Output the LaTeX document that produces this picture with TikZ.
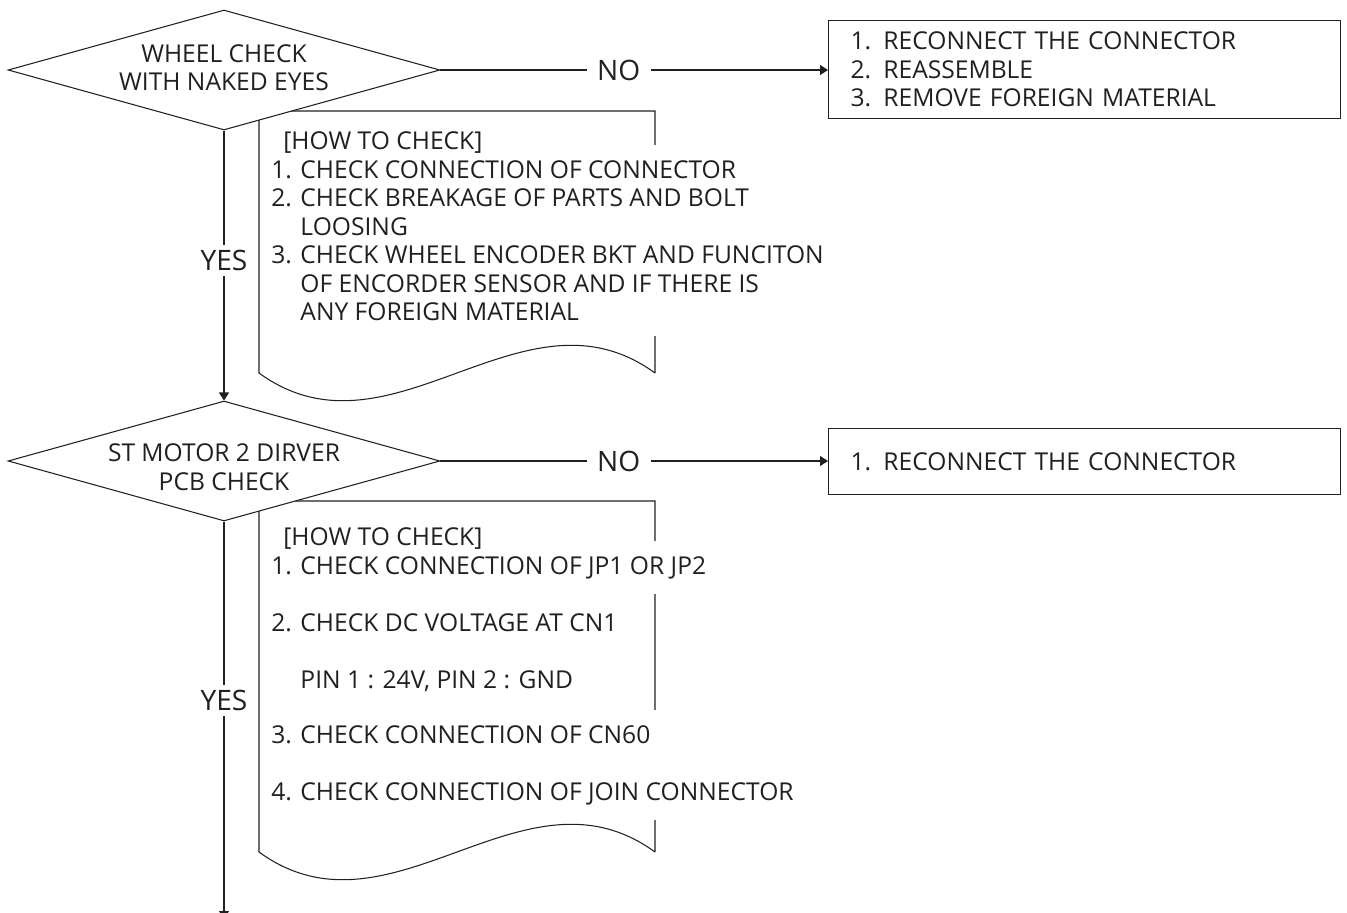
\documentclass[tikz,border=0pt]{standalone}
\usepackage{fontspec}
\setmainfont{Open Sans}
\usetikzlibrary{shapes.geometric,arrows.meta}
\definecolor{ink}{HTML}{231F20}

\tikzset{
  every node/.style={font=\fontsize{14}{16.2}\selectfont, text=ink},
  flow/.style={draw=ink, line width=0.6pt},
  tip/.style={-{Triangle[length=1.6mm,width=2mm]}},
  check/.style={diamond, flow, fill=white, aspect=3.6, minimum width=8.64cm,
    minimum height=2.4cm, inner sep=0pt, align=center},
  fixbox/.style={flow, anchor=north west, text width=9.36cm, inner xsep=0.44cm,
    align=left},
  howto/.style={align=left, fill=white, inner xsep=0pt, inner ysep=0.3cm},
  answer/.style={font=\fontsize{16}{18}\selectfont, fill=white,
    inner xsep=6pt, inner ysep=3pt},
}
% move a line up or down without changing its box
\newcommand{\nudge}[2]{\raisebox{#1}[\height][\depth]{#2}}

\begin{document}
\begin{tikzpicture}[x=0.02cm, y=-0.02cm]
    \useasboundingbox (0,0) rectangle (1347,913);
    \def\dl{259}   % left edge of the notes
    \def\dr{655}   % right edge of the notes
    \def\amp{96}   % wave of the note bottom

    % Note sheets (drawn first, text and diamonds sit on top)
    \foreach \top/\bot in {111/373, 501/852} {
      \draw[flow] (\dr,\bot) -- (\dr,\top) -- (\dl,\top) -- (\dl,\bot)
        .. controls (\dl+132,\bot+\amp) and (\dr-132,\bot-\amp) .. (\dr,\bot);
    }

    % Notes text, first sheet
    \node[howto, anchor=north west] (note1) at (271,145) {1. CHECK CONNECTION OF CONNECTOR\\
      2. CHECK BREAKAGE OF PARTS AND BOLT\\
      \phantom{2. }LOOSING\\
      3. CHECK WHEEL ENCODER BKT AND FUNCITON\\
      \phantom{3. }OF ENCORDER SENSOR AND IF THERE IS\\
      \phantom{3. }ANY FOREIGN MATERIAL};
    \node[anchor=base west, inner sep=0pt] (head1) at (283,149) {[HOW TO CHECK]};

    % Notes text, second sheet
    \node[howto, anchor=base west] (note2a) at (271,574) {1. CHECK CONNECTION OF JP1 OR JP2};
    \node[howto, anchor=north west] (note2b) at (271,598) {2. CHECK DC VOLTAGE AT CN1\\[16.2pt]
      \phantom{2. }PIN 1 : 24V, PIN 2 : GND};
    \node[howto, anchor=north west] (note2c) at (271,710) {3. CHECK CONNECTION OF CN60\\[16.2pt]
      4. CHECK CONNECTION OF JOIN CONNECTOR};
    \node[anchor=base west, inner sep=0pt] (head2) at (283,545) {[HOW TO CHECK]};

    % Decisions
    \node[check] (wheel) at (224,70) {\nudge{1.2pt}{WHEEL CHECK}\\\nudge{1.2pt}{WITH NAKED EYES}};
    \node[check] (motor) at (224,461) {\nudge{-3.4pt}{ST MOTOR 2 DIRVER}\\\nudge{-3.4pt}{PCB CHECK}};

    % Actions
    \node[fixbox, minimum height=1.96cm] (fix1) at (828,20) {1. RECONNECT THE CONNECTOR\\
      2. REASSEMBLE\\
      3. REMOVE FOREIGN MATERIAL};
    \node[fixbox, minimum height=1.32cm] (fix2) at (828,428) {1. RECONNECT THE CONNECTOR};

    % Connectors
    \draw[flow, tip] (wheel.east) -- node[answer, pos=0.46] {NO} (wheel.east -| fix1.west);
    \draw[flow, tip] (motor.east) -- node[answer, pos=0.46] {NO} (motor.east -| fix2.west);
    \draw[flow, tip] (wheel.south) -- node[answer, pos=0.48] {YES} (motor.north);
    \coordinate (next) at (224,919);
    \draw[flow, tip] (motor.south) -- node[answer, pos=0.45] {YES} (next);

  \end{tikzpicture}
\end{document}
